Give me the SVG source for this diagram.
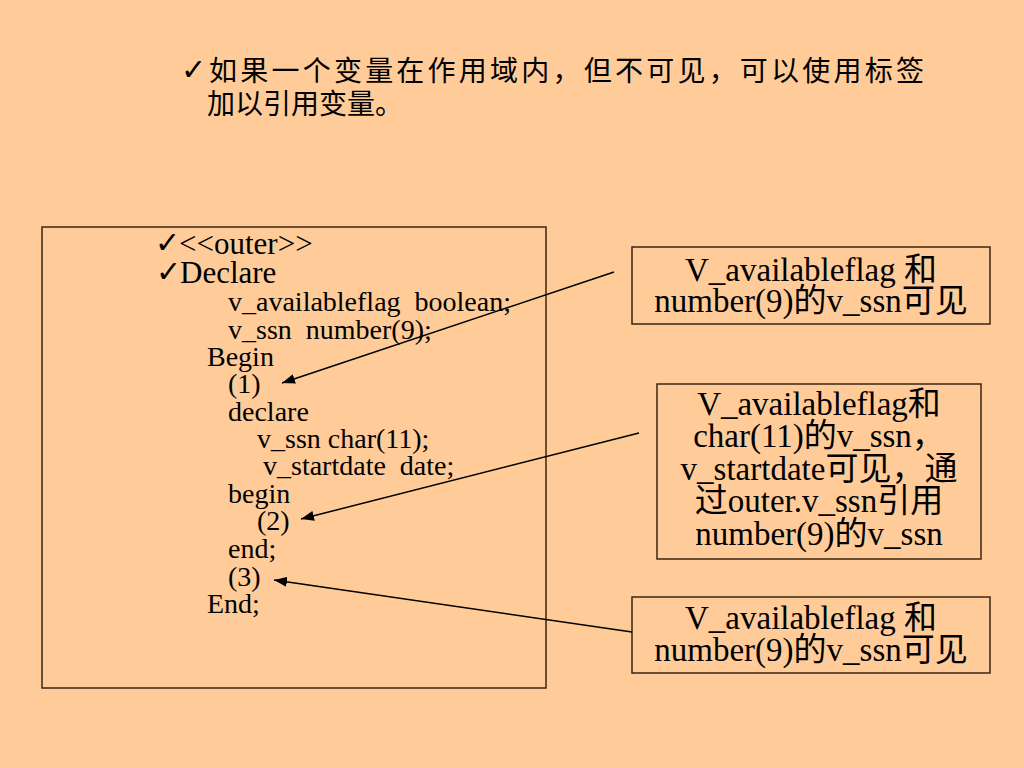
<svg xmlns="http://www.w3.org/2000/svg" width="1024" height="768" viewBox="0 0 1024 768">
<style>
.t{font-family:"Liberation Serif","Noto Sans CJK SC",serif;fill:#000}
.cjk{font-family:"Noto Sans CJK SC",sans-serif;fill:#000}
.chk{font-family:"DejaVu Sans",sans-serif;fill:#000;font-size:30px}
.code{font-size:28px}
.big{font-size:31px}
.box{fill:none;stroke:#3a2614;stroke-width:1.5}
.lbl{font-size:33px;text-anchor:middle}
.conn{stroke:#000;stroke-width:1.5;fill:none;marker-end:url(#ah)}
</style>
<defs>
<marker id="ah" markerUnits="userSpaceOnUse" markerWidth="14" markerHeight="10" refX="13" refY="5" orient="auto">
<path d="M0,0 L13,5 L0,10 Z" fill="#000"/>
</marker>
</defs>
<rect width="1024" height="768" fill="#FFCC99"/>

<g id="title">
<text class="chk" x="181" y="80">✓</text>
<text class="cjk" x="209" y="81" font-size="28" textLength="715" lengthAdjust="spacing">如果一个变量在作用域内，但不可见，可以使用标签</text>
<text class="cjk" x="207" y="114" font-size="28">加以引用变量。</text>
</g>

<g id="code">
<rect class="box" x="42" y="227" width="504" height="461"/>
<text class="chk" x="155" y="253">✓</text>
<text class="t big" x="179" y="254">&lt;&lt;outer&gt;&gt;</text>
<text class="chk" x="156" y="282">✓</text>
<text class="t big" x="180" y="283">Declare</text>
<text class="t code" x="228" y="311" xml:space="preserve">v_availableflag  boolean;</text>
<text class="t code" x="228" y="339" xml:space="preserve">v_ssn  number(9);</text>
<text class="t code" x="207" y="366">Begin</text>
<text class="t code" x="228" y="393">(1)</text>
<text class="t code" x="228" y="421">declare</text>
<text class="t code" x="257" y="448">v_ssn char(11);</text>
<text class="t code" x="263" y="475" xml:space="preserve">v_startdate  date;</text>
<text class="t code" x="228" y="503">begin</text>
<text class="t code" x="257" y="530">(2)</text>
<text class="t code" x="228" y="558">end;</text>
<text class="t code" x="228" y="586">(3)</text>
<text class="t code" x="207" y="613">End;</text>
</g>

<g id="note1">
<rect class="box" x="632" y="247" width="358" height="77"/>
<text class="t lbl" x="811" y="281">V_availableflag 和</text>
<text class="t lbl" x="811" y="312">number(9)的v_ssn可见</text>
</g>

<g id="note2">
<rect class="box" x="657" y="384" width="324" height="175"/>
<text class="t lbl" x="819" y="415">V_availableflag和</text>
<text class="t lbl" x="819" y="447">char(11)的v_ssn，</text>
<text class="t lbl" x="819" y="480">v_startdate可见，通</text>
<text class="t lbl" x="819" y="512">过outer.v_ssn引用</text>
<text class="t lbl" x="819" y="545">number(9)的v_ssn</text>
</g>

<g id="note3">
<rect class="box" x="632" y="597" width="358" height="76"/>
<text class="t lbl" x="811" y="629">V_availableflag 和</text>
<text class="t lbl" x="811" y="661">number(9)的v_ssn可见</text>
</g>

<g id="connectors">
<line class="conn" x1="614" y1="272" x2="282" y2="383"/>
<line class="conn" x1="639" y1="433" x2="301" y2="519"/>
<line class="conn" x1="632" y1="632" x2="274" y2="580"/>
</g>
</svg>
